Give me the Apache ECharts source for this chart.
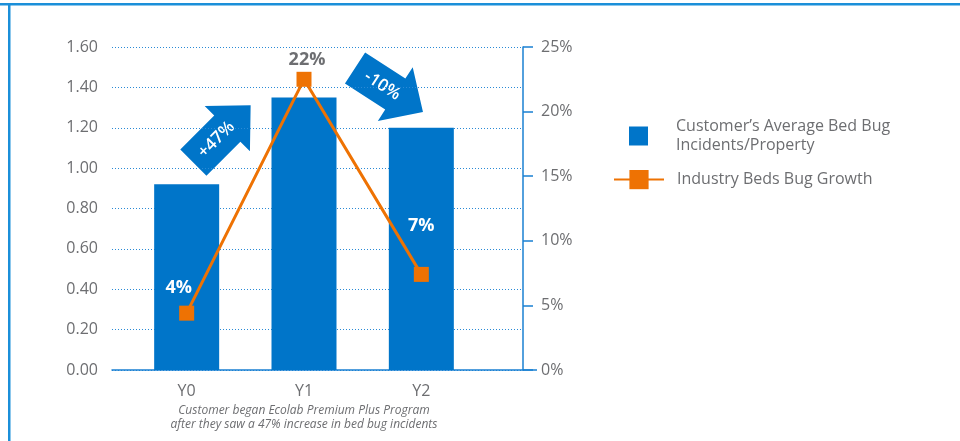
<!DOCTYPE html>
<html><head><meta charset="utf-8">
<script src="https://cdn.jsdelivr.net/npm/echarts@6/dist/echarts.min.js"></script>
<style>html,body{margin:0;padding:0;background:#fff}#c{width:960px;height:441px}</style>
</head><body><div id="c"></div>
<script>
const categories = ['Y0', 'Y1', 'Y2'];
const incidents = [0.92, 1.35, 1.20];
const growth = [4.4, 22.5, 7.4];
const growthLabels = ['4%', '22%', '7%'];
const barName = 'Customer\u2019s Average Bed Bug Incidents/Property';
const lineName = 'Industry Beds Bug Growth';
const axisNote = 'Customer began Ecolab Premium Plus Program\nafter they saw a 47% increase in bed bug incidents';
const arrowTexts = ['+47%', '-10%'];

const BLUE = '#0075c9';
const AXIS = '#1a80d2';
const GRID = '#2a8ad6';
const ORANGE = '#ee7203';
const GRAY = '#6d6e71';
const FONT = 'Open Sans';

const chart = echarts.init(document.getElementById('c'));

function arrow(cx, cy, rotDeg, text) {
  const L = 81, hl = 33, bw = 18.5, hw = 32;
  const x0 = -L / 2, xh = L / 2 - hl, x1 = L / 2;
  return {
    type: 'group', x: cx, y: cy, rotation: rotDeg * Math.PI / 180, z: 10,
    children: [
      { type: 'polygon', shape: { points: [[x0, -bw], [xh, -bw], [xh, -hw], [x1, 0], [xh, hw], [xh, bw], [x0, bw]] },
        style: { fill: BLUE } },
      { type: 'text', x: -8, y: 0, style: { text: text, fill: '#fff', font: '600 17px "' + FONT + '"', align: 'center', verticalAlign: 'middle' } }
    ]
  };
}

const labelOffsets = [[-8, -4], [3, 2], [0, -27]];
const labelColors = ['#fff', GRAY, '#fff'];

chart.setOption({
  animation: false,
  textStyle: { fontFamily: FONT },
  grid: [
    { left: 112, right: 437, top: 47, bottom: 71 },
    { left: 128, right: 480, top: 47, bottom: 71 }
  ],
  xAxis: [
    { gridIndex: 0, type: 'value', min: 0, max: 1,
      axisLine: { show: true, lineStyle: { color: AXIS, width: 1.5 } },
      axisTick: { show: false }, axisLabel: { show: false }, splitLine: { show: false } },
    { gridIndex: 1, type: 'category', data: categories,
      axisLine: { show: false }, axisTick: { show: false },
      axisLabel: { color: GRAY, fontSize: 16, margin: 13, fontFamily: FONT },
      name: axisNote, nameLocation: 'middle', nameGap: 30,
      nameTextStyle: { color: GRAY, fontSize: 12, fontStyle: 'italic', lineHeight: 14, fontFamily: FONT } }
  ],
  yAxis: [
    { gridIndex: 0, type: 'value', position: 'left', min: 0, max: 1.6, interval: 0.2,
      axisLine: { show: false }, axisTick: { show: false },
      axisLabel: { color: GRAY, fontSize: 16, margin: 14, formatter: v => v.toFixed(2), fontFamily: FONT },
      splitLine: { show: true, lineStyle: { color: GRID, type: [1, 2], width: 1 } } },
    { gridIndex: 0, type: 'value', position: 'right', min: 0, max: 25, interval: 5,
      axisLine: { show: true, lineStyle: { color: AXIS, width: 1.5 } },
      axisTick: { show: true, length: 10, lineStyle: { color: AXIS, width: 1.5 } },
      axisLabel: { color: GRAY, fontSize: 16, margin: 18, formatter: '{value}%', fontFamily: FONT },
      splitLine: { show: false } },
    { gridIndex: 1, type: 'value', min: 0, max: 1.6, show: false },
    { gridIndex: 1, type: 'value', min: 0, max: 25, show: false }
  ],
  legend: [
    { data: [barName], left: 629, top: 117, padding: 0, icon: 'rect', itemWidth: 19, itemHeight: 19,
      formatter: n => n.replace(' Incidents', '\nIncidents'),
      textStyle: { color: GRAY, fontSize: 16, lineHeight: 19, padding: [0, 0, 0, 23], fontFamily: FONT } },
    { data: [lineName], left: 613, top: 170, padding: 0, itemWidth: 50, itemHeight: 24,
      textStyle: { color: GRAY, fontSize: 16, padding: [0, 0, 0, 8], fontFamily: FONT } }
  ],
  series: [
    { name: barName, type: 'bar', xAxisIndex: 1, yAxisIndex: 2, data: incidents, barWidth: 65,
      itemStyle: { color: BLUE } },
    { name: lineName, type: 'line', xAxisIndex: 1, yAxisIndex: 3, z: 5,
      symbol: 'rect', symbolSize: 15,
      lineStyle: { color: ORANGE, width: 3 }, itemStyle: { color: ORANGE },
      data: growth.map((v, i) => ({ value: v, label: { offset: labelOffsets[i], color: labelColors[i] } })),
      label: { show: true, position: 'top', fontSize: 18, fontWeight: 'bold', fontFamily: FONT,
        formatter: p => growthLabels[p.dataIndex] } }
  ],
  graphic: [
    { type: 'rect', shape: { x: 0, y: 3, width: 960, height: 2.5 }, style: { fill: '#1b8fd9' } },
    { type: 'rect', shape: { x: 8, y: 3, width: 2.5, height: 441 }, style: { fill: '#1b8fd9' } },
    { type: 'line', shape: { x1: 523, y1: 370, x2: 537, y2: 370 }, style: { stroke: AXIS, lineWidth: 1.5 } },
    arrow(222, 134, 45, arrowTexts[0]),
    arrow(389, 90, -33, arrowTexts[1])
  ]
});
</script>
</body></html>
